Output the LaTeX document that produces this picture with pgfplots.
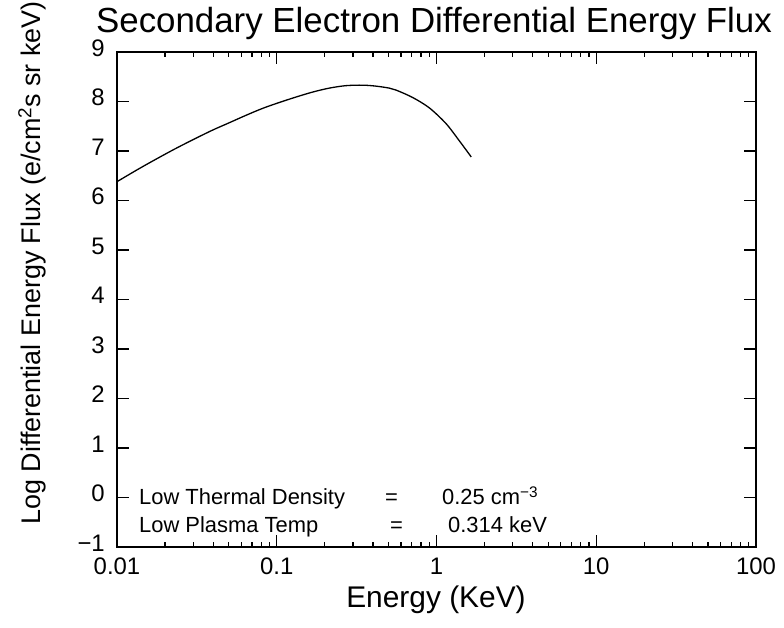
\documentclass[border=0pt]{standalone}
\usepackage{fontspec}
\setmainfont{Liberation Sans}
\usepackage{pgfplots}
\pgfplotsset{compat=1.18}
\usetikzlibrary{calc}

\begin{document}
\begin{tikzpicture}
\begin{axis}[
    scale only axis,
    width=639bp, height=495bp,
    xmode=log,
    xmin=0.01, xmax=100,
    ymin=-1, ymax=9,
    xtick={0.01,0.1,1,10,100},
    xticklabels={0.01,0.1,1,10,100},
    minor xtick={0.02,0.03,0.04,0.05,0.06,0.07,0.08,0.09,
                 0.2,0.3,0.4,0.5,0.6,0.7,0.8,0.9,
                 2,3,4,5,6,7,8,9,
                 20,30,40,50,60,70,80,90},
    ytick={-1,0,1,2,3,4,5,6,7,8,9},
    yticklabels={−1,0,1,2,3,4,5,6,7,8,9},
    minor y tick num=0,
    major tick length=12bp,
    minor tick length=5bp,
    every tick/.style={black, line width=1.2bp},
    tick label style={font=\fontsize{24}{24}\selectfont, inner sep=0pt},
    xticklabel style={yshift=-11bp},
    yticklabel style={xshift=-12bp, yshift=4bp},
    /pgf/number format/assume math mode=true,
    axis line style={line width=1.8bp},
    clip=false,
]

% secondary electron spectrum
\addplot[black, line width=1.3bp, smooth] coordinates {
    (0.01,6.38) (0.0144,6.68) (0.0233,7.05) (0.0378,7.39) (0.0504,7.57)
    (0.0641,7.72) (0.0814,7.86) (0.1037,7.98) (0.132,8.09) (0.1676,8.19)
    (0.213,8.27) (0.271,8.32) (0.345,8.33) (0.419,8.31) (0.507,8.27)
    (0.559,8.23) (0.71,8.08) (0.903,7.87) (1.15,7.55) (1.394,7.20) (1.65,6.88)
};

\coordinate (bl) at (rel axis cs:0,0);
\end{axis}

% title and labels
\node[anchor=base, inner sep=0pt, font=\fontsize{35}{35}\selectfont]
    at ($(bl)+(317bp,514bp)$) {Secondary Electron Differential Energy Flux};
\node[anchor=base, inner sep=0pt, font=\fontsize{30}{30}\selectfont]
    at ($(bl)+(319bp,-60bp)$) {Energy (KeV)};
\node[rotate=90, anchor=center, inner sep=0pt, font=\fontsize{27}{27}\selectfont]
    at ($(bl)+(-85bp,284bp)$) {Log Differential Energy Flux (e/cm\textsuperscript{2}s sr keV)};

% annotation
\begin{scope}[every node/.style={anchor=base west, inner sep=0pt, font=\fontsize{22}{22}\selectfont}]
\node at ($(bl)+(22bp,42bp)$) {Low Thermal Density};
\node at ($(bl)+(268bp,42bp)$) {=};
\node at ($(bl)+(325bp,42bp)$) {0.25 cm\textsuperscript{−3}};
\node at ($(bl)+(22bp,15bp)$) {Low Plasma Temp};
\node at ($(bl)+(273bp,15bp)$) {=};
\node at ($(bl)+(331bp,15bp)$) {0.314 keV};
\end{scope}

\pgfresetboundingbox
\path[use as bounding box] ($(bl)+(-117bp,-81bp)$) rectangle ($(bl)+(667bp,547bp)$);
\end{tikzpicture}
\end{document}
